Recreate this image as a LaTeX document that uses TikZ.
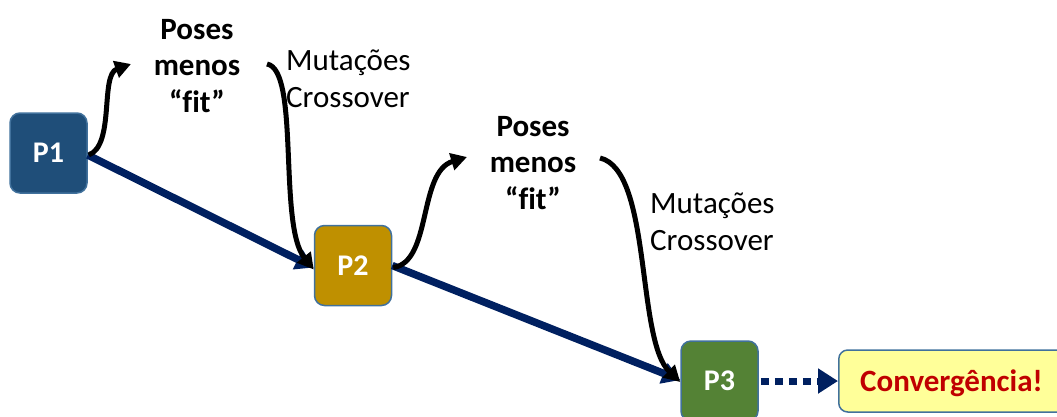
\documentclass[tikz,border=0pt]{standalone}
\usepackage{fontspec}
\setmainfont[Ligatures=NoCommon]{Carlito}
\usetikzlibrary{arrows.meta}
\definecolor{pone}{HTML}{1F4E79}
\definecolor{ptwo}{HTML}{BF9000}
\definecolor{pthree}{HTML}{548235}
\definecolor{boxedge}{HTML}{41719C}
\definecolor{navy}{HTML}{002060}
\definecolor{convfill}{HTML}{FFFF99}
\definecolor{convtext}{HTML}{C00000}
\tikzset{
  pbox/.style={draw=boxedge, line width=1.5pt, rounded corners=10pt, minimum width=77pt, minimum height=80pt, text=white, font=\fontsize{30}{36}\selectfont\bfseries, inner sep=0pt},
  poses/.style={align=center, font=\fontsize{31}{36.5}\selectfont\bfseries, inner sep=0pt},
  mut/.style={align=left, font=\fontsize{31}{37}\selectfont, inner sep=0pt, anchor=west},
  curvy/.style={line width=5pt, -{Triangle[length=16pt,width=17pt]}},
  navyline/.style={draw=navy, line width=7.5pt, -{Triangle[length=18pt,width=21pt]}},
}
\begin{document}
\begin{tikzpicture}[x=1pt,y=-1pt]
\useasboundingbox (0,0) rectangle (1057,416);
\begin{scope}
\clip (0,0) rectangle (1057,416);
\node[pbox, fill=pone] (p1) at (48.5,153) {P1};
\node[pbox, fill=ptwo] (p2) at (353,265.5) {P2};
\node[pbox, fill=pthree] (p3) at (719.5,381) {P3};
\node[draw=boxedge, line width=1.5pt, fill=convfill, rounded corners=9pt, minimum width=230pt, minimum height=62pt, anchor=west, inner sep=0pt] (conv) at (838,381) {};
\node[text=convtext, font=\fontsize{31}{36}\selectfont\bfseries, anchor=west, inner sep=0pt] (convt) at (860,383) {Convergência!};
\node[poses] (f1) at (197,66) {Poses\\menos\\“fit”};
\node[poses] (f2) at (533,163) {Poses\\menos\\“fit”};
\node[mut] (m1) at (286,79) {Mutações\\Crossover};
\node[mut] (m2) at (650,222) {Mutações\\Crossover};
\coordinate (a1e) at (131,64);
\coordinate (a2s) at (267,64);
\coordinate (a3e) at (467,157);
\coordinate (a4s) at (600,158);
\draw[navyline] (p1.east) ++(0,2) -- ([yshift=-2pt]p2.west);
\draw[navyline] (p2.east) -- ([yshift=1pt]p3.west);
\draw[navy, line width=7pt, dash pattern=on 8pt off 6pt, -{Triangle[length=20pt,width=24pt]}] (p3.east) ++(2,0) -- (conv.west);
\draw[curvy] (p1.east) ++(1,2) .. controls (115,145) and (100,75) .. (a1e);
\draw[curvy] (a2s) .. controls (300,70) and (278,225) .. ([yshift=-4pt]p2.west);
\draw[curvy] (p2.east) ++(1,2) .. controls (432,262) and (418,172) .. (a3e);
\draw[curvy] (a4s) .. controls (652,170) and (636,340) .. ([yshift=-1pt]p3.west);
\end{scope}
\end{tikzpicture}
\end{document}
